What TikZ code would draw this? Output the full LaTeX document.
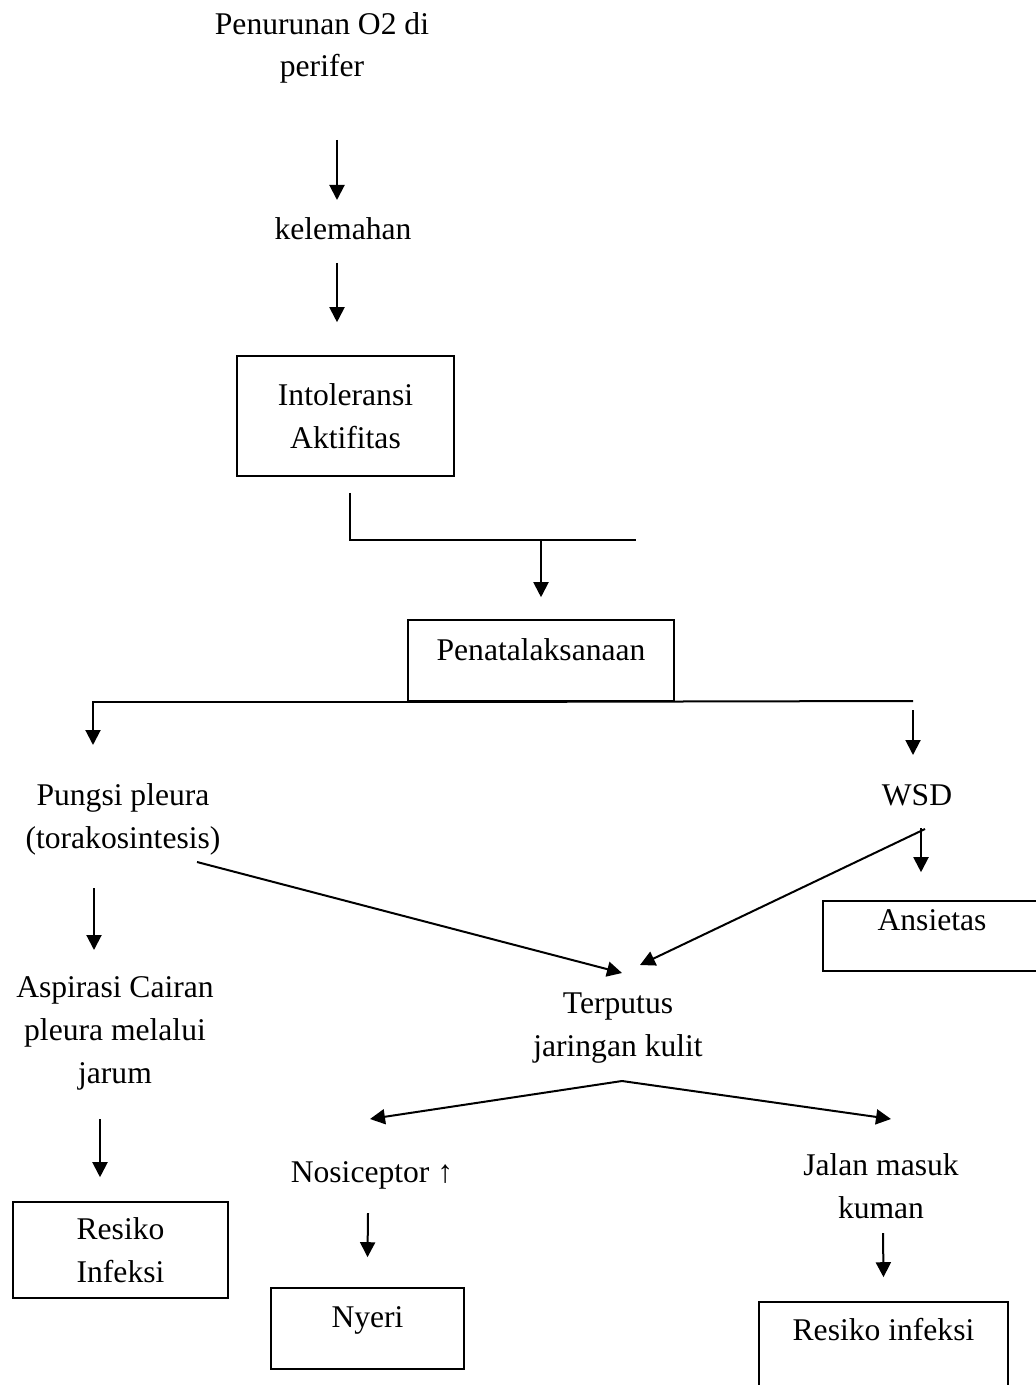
\documentclass[tikz,border=0pt]{standalone}
\usepackage{fontspec}
\setmainfont{Liberation Serif}
\usetikzlibrary{arrows.meta}

\begin{document}
\begin{tikzpicture}[x=0.5pt,y=-0.5pt,
    every node/.style={font=\fontsize{15.8}{21.3}\selectfont, align=center, inner sep=0pt},
    teks/.style={anchor=base},
    kotak/.style={draw, line width=0.8pt},
    garis/.style={line width=1pt},
    panah/.style={line width=1pt, -{Triangle[length=7.5pt,width=7.5pt]}},
    duapanah/.style={line width=1pt, {Triangle[length=7.5pt,width=7.5pt]}-{Triangle[length=7.5pt,width=7.5pt]}}]
   \useasboundingbox (0,0) rectangle (1036,1385);
   % nodes (base = last line)
   \node[teks] (turun) at (322,77) {Penurunan O2 di\\perifer};
   \node[teks] (lemah) at (343,240) {kelemahan};
   \node[kotak, minimum width=108.5pt, minimum height=60pt] (intol) at (345.5,416) {Intoleransi\\Aktifitas};
   \node[kotak, teks, minimum width=133pt, text height=20pt, text depth=20.5pt] (tata) at (541,660) {Penatalaksanaan};
   \node[teks] (pungsi) at (123,848) {Pungsi pleura\\(torakosintesis)};
   \node[teks] (wsd) at (917,805) {WSD};
   \node[kotak, teks, minimum width=109pt, text height=14.5pt, text depth=20.5pt] (cemas) at (932,930) {Ansietas};
   \node[teks] (aspirasi) at (115,1083) {Aspirasi Cairan\\pleura melalui\\jarum};
   \node[kotak, minimum width=107.5pt, minimum height=48pt] (infeksi_a) at (120.5,1250) {Resiko\\Infeksi};
   \node[teks] (putus) at (618,1056) {Terputus\\jaringan kulit};
   \node[teks] (nosi) at (372,1182) {Nosiceptor ↑};
   \node[teks] (jalan) at (881,1218) {Jalan masuk\\kuman};
   \node[kotak, teks, minimum width=96.5pt, text height=19.5pt, text depth=21pt] (nyeri) at (367.5,1327) {Nyeri};
   \node[kotak, teks, minimum width=124.5pt, text height=19pt, text depth=30pt] (infeksi_b) at (883.5,1340) {Resiko infeksi};
   \coordinate (ujung) at (636,540);
   \coordinate (kanan) at (913,701);
   % connectors
   \draw[panah] ([xshift=7.5pt,yshift=-31.5pt]turun.base) -- ([xshift=-3pt,yshift=20pt]lemah.base);
   \draw[panah] ([xshift=-3pt,yshift=-11.5pt]lemah.base) -- ([xshift=-4.25pt,yshift=16.5pt]intol.north);
   \draw[garis] ([xshift=2.25pt,yshift=-8pt]intol.south) |- (ujung);
   \draw[panah] (tata.north |- ujung) -- ([yshift=11pt]tata.north);
   \draw[panah] (tata.south) -| ([xshift=-15pt,yshift=51.5pt]pungsi.base);
   \draw[garis] (tata.south) -- (kanan);
   \draw[panah] ([yshift=-4.5pt]kanan) -- ([xshift=-2pt,yshift=25pt]wsd.base);
   \draw[panah] ([xshift=-14.5pt,yshift=-20pt]pungsi.base) -- ([xshift=-10.5pt,yshift=66.5pt]aspirasi.base);
   \draw[panah] ([xshift=-7.5pt,yshift=-18pt]aspirasi.base) -- ([xshift=-10.25pt,yshift=12pt]infeksi_a.north);
   \draw[panah] ([xshift=37pt,yshift=-7pt]pungsi.base) -- ([xshift=2pt,yshift=41.5pt]putus.base);
   \draw[panah] ([xshift=2pt,yshift=-11.5pt]wsd.base) -- ([xshift=-5.5pt,yshift=14pt]cemas.north);
   \draw[panah] ([xshift=4pt,yshift=-12pt]wsd.base) -- ([xshift=11pt,yshift=45.5pt]putus.base);
   \draw[duapanah] ([xshift=-1pt,yshift=31.5pt]nosi.base) -- ([xshift=2pt,yshift=-12.5pt]putus.base) -- ([xshift=5pt,yshift=49.5pt]jalan.base);
   \draw[panah] ([xshift=-2pt,yshift=-15.5pt]nosi.base) -- ([yshift=15pt]nyeri.north);
   \draw[panah] ([xshift=1pt,yshift=-7.5pt]jalan.base) -- ([yshift=12pt]infeksi_b.north);
\end{tikzpicture}
\end{document}
